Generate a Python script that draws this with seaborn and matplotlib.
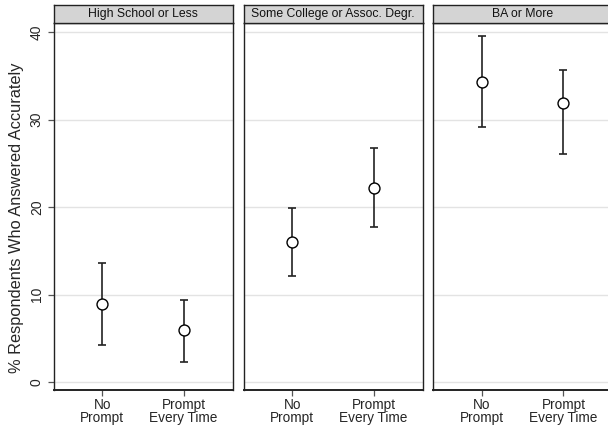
import matplotlib
matplotlib.use("Agg")
import matplotlib.pyplot as plt
import seaborn as sns
import pandas as pd

sns.set_theme(style="white")
plt.rcParams['font.family'] = ['Liberation Sans', 'DejaVu Sans']

panels = ["High School or Less", "Some College or Assoc. Degr.", "BA or More"]
conditions = ["No\nPrompt", "Prompt\nEvery Time"]
estimate = [[8.9, 5.9], [16.0, 22.2], [34.3, 31.9]]
lower = [[4.25, 2.35], [12.1, 17.7], [29.1, 26.1]]
upper = [[13.6, 9.4], [19.9, 26.8], [39.5, 35.7]]
yticks = [0, 10, 20, 30, 40]

rows = []
for p, est, lo, hi in zip(panels, estimate, lower, upper):
    for c, e, l, h in zip(conditions, est, lo, hi):
        rows.append(dict(panel=p, condition=c, est=e, lo=l, hi=h))
df = pd.DataFrame(rows)

W, H = 608, 430
fig = plt.figure(figsize=(W / 100, H / 100), dpi=100)
fig.patch.set_facecolor("white")

lefts = [53.5, 243.5, 433.3]
pw = 179
ax_top, ax_bot = 23, 390
strip_top = 5

for i, p in enumerate(panels):
    ax = fig.add_axes([lefts[i] / W, (H - ax_bot) / H, pw / W, (ax_bot - ax_top) / H])
    sub = df[df.panel == p]
    ax.errorbar(sub["condition"], sub["est"],
                yerr=[sub["est"] - sub["lo"], sub["hi"] - sub["est"]],
                fmt="none", ecolor="#222222", elinewidth=1.2, capsize=2.6, capthick=1.2, zorder=2)
    sns.scatterplot(data=sub, x="condition", y="est", ax=ax, marker="o", s=62,
                    facecolor="white", edgecolor="black", linewidth=1.0, zorder=3)
    ax.set_xlim(-0.6, 1.6)
    ax.set_ylim(-0.9, 41.03)
    ax.set_yticks(yticks)
    for y in yticks:
        ax.axhline(y, color="#e3e3e3", lw=1.0, zorder=0)
    ax.set_xlabel("")
    ax.set_ylabel("")
    for s in ax.spines.values():
        s.set_color("#222222")
        s.set_linewidth(1.0)
    ax.spines["bottom"].set_linewidth(1.4)
    ax.tick_params(axis="x", bottom=True, length=4, width=0.9, color="#555555",
                   labelsize=9.8, pad=1.5)
    for lab in ax.get_xticklabels():
        lab.set_linespacing(0.95)
    if i == 0:
        ax.tick_params(axis="y", left=True, length=4, width=0.9, color="#555555",
                       labelsize=10, pad=3)
        for lab in ax.get_yticklabels():
            lab.set_rotation(90)
            lab.set_va("center")
        ax.set_ylabel("% Respondents Who Answered Accurately", fontsize=11.8, labelpad=4)
        ax.yaxis.label.set_y(0.469)
    else:
        ax.tick_params(axis="y", left=False, labelleft=False)

    sax = fig.add_axes([lefts[i] / W, (H - ax_top) / H, pw / W, (ax_top - strip_top) / H])
    sax.set_facecolor("#d4d4d4")
    sax.set_xticks([])
    sax.set_yticks([])
    for s in sax.spines.values():
        s.set_color("#222222")
        s.set_linewidth(1.0)
    sax.text(0.5, 0.5, p, ha="center", va="center", fontsize=8.8, transform=sax.transAxes,
             color="#111111")

fig.savefig("out.png", dpi=100)
